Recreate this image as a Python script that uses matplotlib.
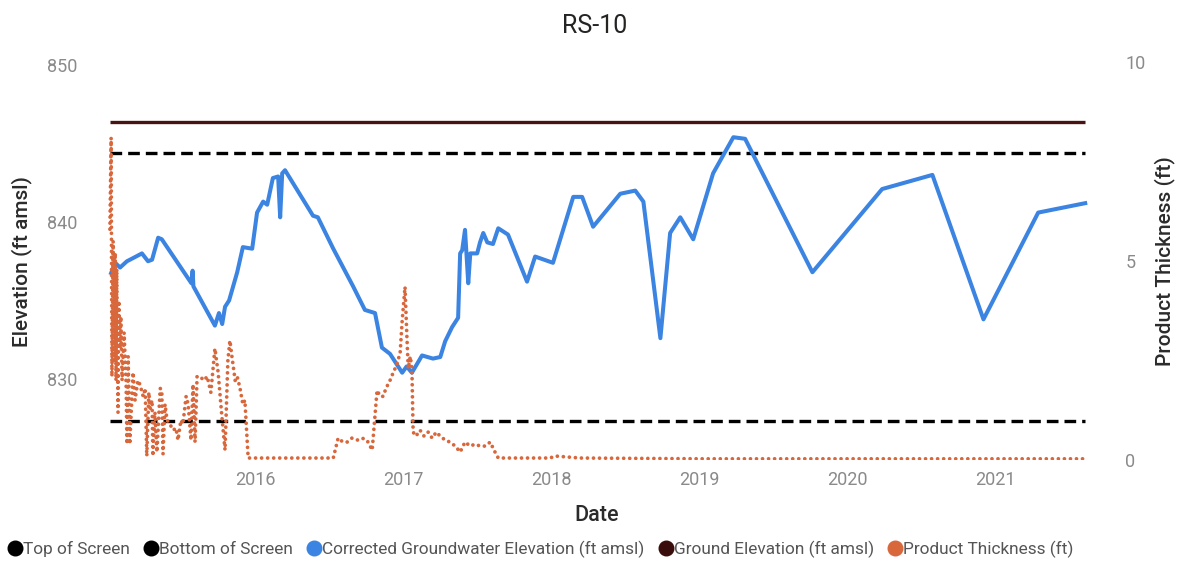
import pandas as pd
import matplotlib
matplotlib.use("Agg")
import matplotlib.pyplot as plt
import matplotlib.dates as mdates
from matplotlib.lines import Line2D

plt.rcParams['font.family'] = ['Roboto', 'DejaVu Sans']

# ---- data ----
gw_dates = [
    "2015-01-11", "2015-01-21", "2015-02-02", "2015-02-19", "2015-03-06", "2015-03-28",
    "2015-04-12", "2015-04-22", "2015-05-07", "2015-05-16", "2015-07-28", "2015-07-31",
    "2015-08-02", "2015-09-24", "2015-10-04", "2015-10-12", "2015-10-19", "2015-10-29",
    "2015-11-18", "2015-12-02", "2015-12-25", "2016-01-06", "2016-01-21", "2016-01-31",
    "2016-02-14", "2016-02-27", "2016-03-03", "2016-03-08", "2016-03-15", "2016-05-23",
    "2016-06-04", "2016-07-12", "2016-08-30", "2016-09-28", "2016-10-23", "2016-11-09",
    "2016-11-29", "2016-12-19", "2016-12-29", "2017-01-09", "2017-01-22", "2017-02-16",
    "2017-03-15", "2017-04-02", "2017-04-14", "2017-05-01", "2017-05-16", "2017-05-21",
    "2017-05-26", "2017-06-02", "2017-06-10", "2017-06-15", "2017-07-02", "2017-07-09",
    "2017-07-17", "2017-07-27", "2017-08-10", "2017-08-23", "2017-09-16", "2017-11-02",
    "2017-11-22", "2018-01-05", "2018-02-24", "2018-03-18", "2018-04-14", "2018-06-20",
    "2018-07-27", "2018-08-16", "2018-09-27", "2018-10-21", "2018-11-15", "2018-12-17",
    "2019-02-04", "2019-03-26", "2019-04-24", "2019-10-07", "2020-03-27", "2020-07-29",
    "2020-12-02", "2021-04-16", "2021-08-10",
]
gw_elev = [
    836.75, 837.4, 837.1, 837.5, 837.7, 838.0,
    837.5, 837.6, 839.0, 838.9, 836.1, 836.9,
    835.9, 833.4, 834.2, 833.5, 834.6, 835.0,
    836.8, 838.4, 838.3, 840.6, 841.3, 841.1,
    842.8, 842.9, 840.3, 843.1, 843.3, 840.4,
    840.3, 838.3, 835.9, 834.4, 834.2, 832.0,
    831.6, 830.8, 830.4, 830.8, 830.4, 831.5,
    831.3, 831.4, 832.4, 833.3, 833.9, 838.0,
    838.2, 839.5, 836.1, 838.0, 838.0, 838.7,
    839.3, 838.7, 838.6, 839.6, 839.2, 836.2,
    837.8, 837.4, 841.6, 841.6, 839.7, 841.8,
    842.0, 841.3, 832.6, 839.3, 840.3, 838.9,
    843.1, 845.4, 845.3, 836.8, 842.1, 843.0,
    833.8, 840.6, 841.2,
]

pt_dates = [
    "2015-01-08", "2015-01-11", "2015-01-13", "2015-01-16", "2015-01-18", "2015-01-21",
    "2015-01-23", "2015-01-25", "2015-01-28", "2015-01-30", "2015-02-02", "2015-02-04",
    "2015-02-07", "2015-02-12", "2015-02-14", "2015-02-17", "2015-02-19", "2015-02-22",
    "2015-02-26", "2015-03-06", "2015-03-11", "2015-03-18", "2015-03-23", "2015-03-31",
    "2015-04-05", "2015-04-09", "2015-04-14", "2015-04-17", "2015-04-22", "2015-04-24",
    "2015-04-29", "2015-05-04", "2015-05-12", "2015-05-16", "2015-05-19", "2015-05-24",
    "2015-05-29", "2015-06-05", "2015-06-13", "2015-06-20", "2015-06-25", "2015-07-02",
    "2015-07-07", "2015-07-15", "2015-07-20", "2015-07-27", "2015-08-01", "2015-08-06",
    "2015-08-11", "2015-08-18", "2015-08-28", "2015-09-05", "2015-09-14", "2015-09-24",
    "2015-10-02", "2015-10-07", "2015-10-12", "2015-10-19", "2015-10-26", "2015-10-31",
    "2015-11-05", "2015-11-13", "2015-11-18", "2015-11-25", "2015-12-02", "2015-12-07",
    "2015-12-15", "2016-03-27", "2016-07-12", "2016-07-24", "2016-08-05", "2016-08-15",
    "2016-08-27", "2016-09-09", "2016-09-21", "2016-10-03", "2016-10-16", "2016-10-28",
    "2016-11-05", "2016-11-12", "2016-11-19", "2016-11-29", "2016-12-07", "2016-12-16",
    "2016-12-24", "2016-12-29", "2017-01-05", "2017-01-10", "2017-01-13", "2017-01-18",
    "2017-01-22", "2017-01-25", "2017-02-01", "2017-02-11", "2017-02-21", "2017-03-03",
    "2017-03-13", "2017-03-23", "2017-04-02", "2017-04-14", "2017-04-26", "2017-05-09",
    "2017-05-21", "2017-06-02", "2017-06-15", "2017-06-27", "2017-07-09", "2017-07-22",
    "2017-08-03", "2017-08-15", "2017-08-23", "2017-12-29", "2018-01-10", "2018-03-13",
    "2019-01-15", "2020-01-15", "2021-08-10",
]
pt_thick = [
    5.8, 8.1, 2.1, 5.5, 2.5, 5.2,
    2.0, 4.8, 1.2, 4.0, 2.8, 3.6,
    2.0, 3.2, 2.7, 1.9, 0.4, 2.6,
    0.4, 2.2, 1.5, 2.0, 1.9, 1.6,
    1.8, 0.1, 1.7, 1.3, 1.5, 0.1,
    1.2, 0.2, 1.8, 1.75, 0.15, 1.4,
    1.0, 0.9, 0.75, 0.8, 0.5, 1.0,
    0.9, 1.6, 1.4, 0.5, 1.9, 0.45,
    2.1, 2.1, 2.0, 2.1, 1.7, 2.8,
    2.2, 1.6, 1.0, 0.25, 2.5, 3.0,
    2.6, 2.0, 2.1, 1.8, 1.4, 1.5,
    0.05, 0.05, 0.05, 0.55, 0.45, 0.45,
    0.55, 0.5, 0.55, 0.5, 0.25, 1.75,
    1.6, 1.6, 1.8, 2.0, 2.2, 2.4,
    2.7, 3.5, 4.35, 3.0, 2.3, 2.6,
    2.3, 0.7, 0.6, 0.75, 0.6, 0.7,
    0.55, 0.7, 0.6, 0.5, 0.45, 0.35,
    0.2, 0.45, 0.35, 0.4, 0.35, 0.35,
    0.45, 0.2, 0.05, 0.05, 0.1, 0.05,
    0.03, 0.03, 0.03,
]

ground_elev = 846.35
top_screen = 844.4
bottom_screen = 827.35
line_span = ["2015-01-08", "2021-08-10"]

gw_dates = pd.to_datetime(gw_dates)
pt_dates = pd.to_datetime(pt_dates)
line_span = pd.to_datetime(line_span)

BLUE = "#3b84e2"
ORANGE = "#d8673c"
MAROON = "#4a1313"
TICK_GREY = "#8a8a8a"
LABEL_DARK = "#2b2b2b"

fig = plt.figure(figsize=(11.79, 5.67), dpi=100)
ax = fig.add_axes([0.0891, 0.1887, 0.8372, 0.7019])
ax2 = ax.twinx()

# reference lines
ax.plot(line_span, [ground_elev] * 2, color=MAROON, lw=2.4, solid_capstyle="butt")
ax.plot(line_span, [top_screen] * 2, color="black", lw=2.4, linestyle=(0, (3.5, 1.8)))
ax.plot(line_span, [bottom_screen] * 2, color="black", lw=2.4, linestyle=(0, (3.5, 1.8)))

# groundwater elevation
ax.plot(gw_dates, gw_elev, color=BLUE, lw=2.9)

# product thickness on the secondary axis, round dots
ax2.plot(pt_dates, pt_thick, color=ORANGE, lw=2.7, linestyle=(0, (0.01, 1.6)),
         dash_capstyle="round")

ax.set_xlim(pd.Timestamp("2014-12-27"), pd.Timestamp("2021-08-27"))
ax.set_ylim(824.84, 850.19)
ax2.set_ylim(0, 10)

ax.set_yticks([830, 840, 850])
ax2.set_yticks([0, 5, 10])
ax.xaxis.set_major_locator(mdates.YearLocator(base=1, month=1, day=1))
ax.xaxis.set_major_formatter(mdates.DateFormatter("%Y"))
ax.set_xticks([t for t in ax.get_xticks() if mdates.num2date(t).year >= 2016])

for a in (ax, ax2):
    for s in a.spines.values():
        s.set_visible(False)
    a.tick_params(length=0, labelsize=13, labelcolor=TICK_GREY)
ax.tick_params(axis="y", pad=20)
ax2.tick_params(axis="y", pad=24)
ax.tick_params(axis="x", pad=8)

ax.set_ylabel("Elevation (ft amsl)", fontsize=15, color=LABEL_DARK, fontweight="medium")
ax.yaxis.set_label_coords(-0.074, 0.5)
ax2.set_ylabel("Product Thickness (ft)", fontsize=15, color=LABEL_DARK, fontweight="medium")
ax2.yaxis.set_label_coords(1.063, 0.5)
ax.set_xlabel("Date", fontsize=15.5, color=LABEL_DARK, fontweight="medium")
ax.xaxis.set_label_coords(0.498, -0.112)

fig.text(0.504, 0.955, "RS-10", ha="center", va="center", fontsize=18, color="#252423")

handles = [
    Line2D([], [], marker="o", ls="", color="black", markersize=10.5),
    Line2D([], [], marker="o", ls="", color="black", markersize=10.5),
    Line2D([], [], marker="o", ls="", color=BLUE, markersize=10.5),
    Line2D([], [], marker="o", ls="", color="#3a0d0d", markersize=10.5),
    Line2D([], [], marker="o", ls="", color=ORANGE, markersize=10.5),
]
labels = ["Top of Screen", "Bottom of Screen", "Corrected Groundwater Elevation (ft amsl)",
          "Ground Elevation (ft amsl)", "Product Thickness (ft)"]
leg = fig.legend(handles, labels, loc="center left", bbox_to_anchor=(-0.004, 0.031),
                 ncol=5, frameon=False, fontsize=12.4, handletextpad=-0.3,
                 columnspacing=0.5, handlelength=1.5, borderaxespad=0)
for t in leg.get_texts():
    t.set_color("#555555")

fig.savefig("out.png", dpi=100)
